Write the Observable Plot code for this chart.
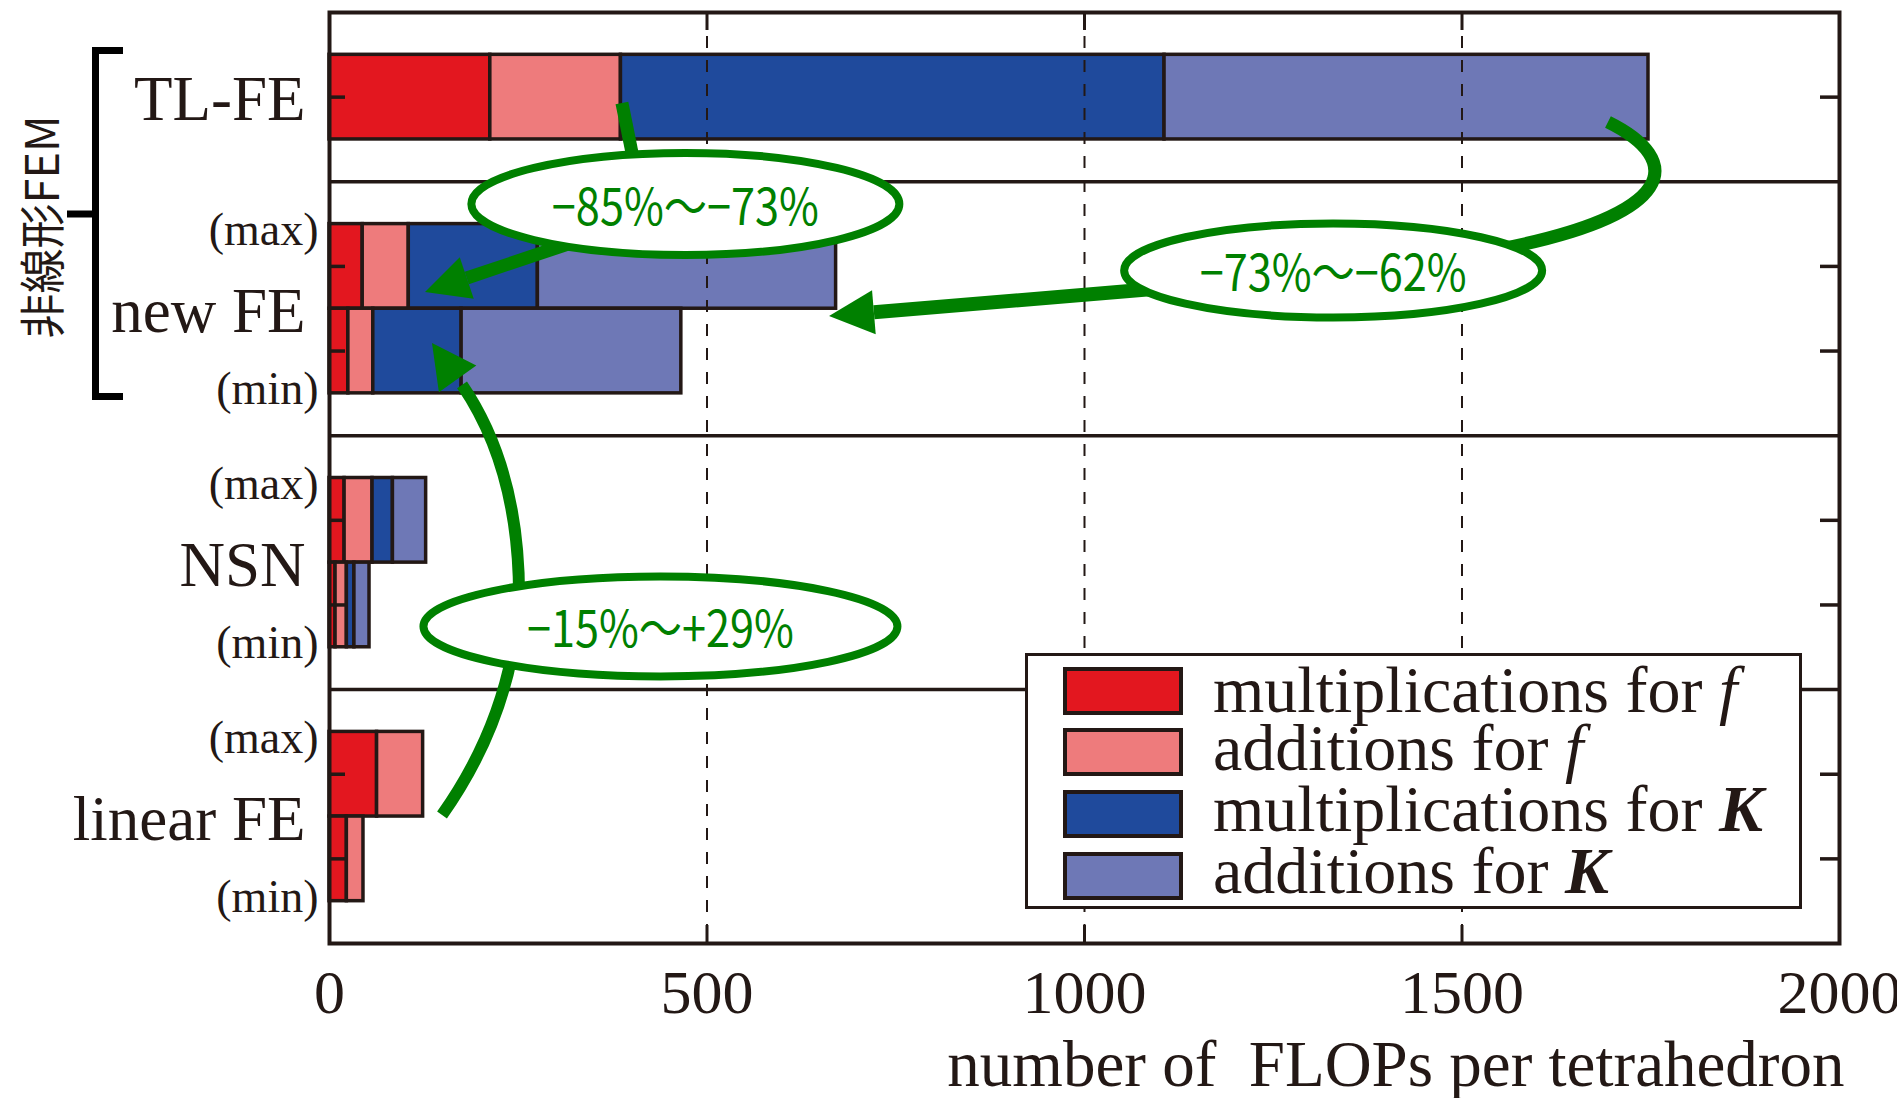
<!DOCTYPE html>
<html>
<head>
<meta charset="utf-8">
<script src="https://cdn.jsdelivr.net/npm/d3@7"></script>
<script src="https://cdn.jsdelivr.net/npm/@observablehq/plot@0.6"></script>
<style>
  html, body { margin: 0; padding: 0; background: #fff; }
  #chart { position: relative; width: 1897px; height: 1098px; overflow: hidden; }
</style>
</head>
<body>
<div id="chart"></div>
<script>
// ---------------- data ----------------
const rowLabels = ["TL-FE", "new FE (max)", "new FE (min)", "NSN (max)", "NSN (min)", "linear FE (max)", "linear FE (min)"];
const groupNames = ["TL-FE", "new FE", "NSN", "linear FE"];
const rowGroup = [0, 1, 1, 2, 2, 3, 3];
const rowVariant = ["", "(max)", "(min)", "(max)", "(min)", "(max)", "(min)"];
const multF = [213, 44, 25, 20, 8, 63, 23];
const addF = [173, 61, 33, 37, 15, 61, 22];
const multK = [720, 171, 117, 27, 10, 0, 0];
const addK = [641, 395, 291, 44, 20, 0, 0];
const series = ["multiplications for f", "additions for f", "multiplications for K", "additions for K"];
const seriesColors = ["#e3171f", "#ee7b7c", "#1f4a9c", "#6e78b6"];
const xTicks = [0, 500, 1000, 1500, 2000];
const gridTicks = [500, 1000, 1500];
const annotationTexts = ["−85%〜−73%", "−73%〜−62%", "−15%〜+29%"];
const bracketTitle = "非線形FEM";
const xLabel = "number of\u00a0 FLOPs per tetrahedron";

// ---------------- layout ----------------
const W = 1897, H = 1098;
const mL = 329, mR = 58, mT = 12, mB = 155;
const frameW = W - mL - mR, frameH = H - mT - mB;
const INK = "#231815";
const GREEN = "#008000";

// row placement in "row units": one bar = 1, gaps = 0.5
const groupTop = g => g === 0 ? 0.5 : 2.5 + 3 * (g - 1);
const slotOf = i => (i > 0 && rowGroup[i - 1] === rowGroup[i]) ? 1 : 0;
const rowY1 = rowLabels.map((r, i) => groupTop(rowGroup[i]) + slotOf(i));
const barCenters = rowY1.map(v => v + 0.5);
const separators = [1, 2, 3].map(g => groupTop(g) - 0.5);
const groupCenter = g => g === 0 ? 1 : groupTop(g) + 1;

const seriesValues = [multF, addF, multK, addK];
const segments = [];
rowLabels.forEach((r, i) => {
  let acc = 0;
  seriesValues.forEach((vals, s) => {
    const v = vals[i];
    if (v > 0) segments.push({row: r, series: series[s], x1: acc, x2: acc + v, y1: rowY1[i], y2: rowY1[i] + 1});
    acc += v;
  });
});

const bigLabels = groupNames.map((name, g) => ({text: name, y: groupCenter(g) + 0.035}));
const smallLabels = rowLabels.map((r, i) => ({
  text: rowVariant[i],
  y: rowVariant[i] === "(max)" ? rowY1[i] + 0.07 : rowY1[i] + 1 - 0.05
})).filter(d => d.text);

const plot = Plot.plot({
  width: W, height: H,
  marginLeft: mL, marginRight: mR, marginTop: mT, marginBottom: mB,
  style: {fontFamily: "'Liberation Serif', 'Times New Roman', serif", background: "white", color: INK, overflow: "visible"},
  x: {domain: [0, 2000]},
  y: {domain: [0, 11], reverse: true, axis: null},
  color: {domain: series, range: seriesColors},
  marks: [
    Plot.rect(segments, {x1: "x1", x2: "x2", y1: "y1", y2: "y2", fill: "series", stroke: INK, strokeWidth: 3.5}),
    Plot.ruleX(gridTicks, {stroke: INK, strokeWidth: 2, strokeDasharray: "12,12"}),
    Plot.ruleY(separators, {stroke: INK, strokeWidth: 3.5}),
    Plot.ruleX(gridTicks, {stroke: INK, strokeWidth: 3, insetTop: frameH - 18}),
    Plot.ruleX(gridTicks, {stroke: INK, strokeWidth: 3, insetBottom: frameH - 18}),
    Plot.ruleY(barCenters, {stroke: INK, strokeWidth: 3.5, insetRight: frameW - 16}),
    Plot.ruleY(barCenters, {stroke: INK, strokeWidth: 3.5, insetLeft: frameW - 19}),
    Plot.frame({stroke: INK, strokeWidth: 4}),
    Plot.axisX({ticks: xTicks, tickSize: 0, tickPadding: 25, fontSize: 62, tickFormat: "d", label: null}),
    Plot.text(bigLabels, {x: 0, y: "y", text: "text", textAnchor: "end", dx: -24, fontSize: 63, lineAnchor: "middle", fill: INK}),
    Plot.text(smallLabels, {x: 0, y: "y", text: "text", textAnchor: "end", dx: -11, fontSize: 46, lineAnchor: "middle", fill: INK}),
    Plot.text([xLabel], {text: d => d, frameAnchor: "bottom-right", textAnchor: "end", lineAnchor: "bottom", dy: 142, dx: 5, fontSize: 65, fill: INK})
  ]
});
document.getElementById("chart").appendChild(plot);

// ---------------- annotations ----------------
const sx = plot.scale("x"), sy = plot.scale("y");
const P = (xv, yv) => [sx.apply(xv), sy.apply(yv)];
const svg = d3.select(plot);
const g = svg.append("g").attr("class", "annotations");

function shaft(d, w) {
  g.append("path").attr("d", d).attr("fill", "none").attr("stroke", GREEN)
    .attr("stroke-width", w).attr("stroke-linecap", "butt");
}
function head(tip, from, len, halfW) {
  const dx = tip[0] - from[0], dy = tip[1] - from[1];
  const L = Math.hypot(dx, dy), ux = dx / L, uy = dy / L;
  const bx = tip[0] - ux * len, by = tip[1] - uy * len;
  const p1 = [bx - uy * halfW, by + ux * halfW], p2 = [bx + uy * halfW, by - ux * halfW];
  g.append("path").attr("d", `M${tip}L${p1}L${p2}Z`).attr("fill", GREEN);
  return [bx, by];
}

// arrow A: TL-FE f  -> ellipse 1 -> new FE (max)
{
  const a = P(388, 1.075), b = P(404.6, 1.808);
  shaft(`M${a}L${b}`, 13);
  const s = P(332.5, 2.694), tip = P(127.2, 3.308);
  const base = head(tip, s, 44, 22);
  shaft(`M${s}L${base}`, 13);
}
// arrow B: TL-FE end -> ellipse 2 -> new FE (max) end
{
  const a = P(1694, 1.300), c1 = P(1796, 1.749), c2 = P(1789.4, 2.398), e = P(1544.4, 2.812);
  shaft(`M${a}C${c1} ${c2} ${e}`, 13);
  const s = P(1107.3, 3.261), tip = P(662.3, 3.592);
  const base = head(tip, s, 45, 22);
  shaft(`M${s}L${base}`, 14);
}
// arrow C: linear FE (max) -> ellipse 3 -> new FE (min)
{
  const a = P(149.7, 9.488), c = P(219.9, 8.601), e = P(242.4, 7.597);
  shaft(`M${a}Q${c} ${e}`, 12);
  const s = P(251.7, 6.947), c2 = P(253, 5.411), bse = P(176.2, 4.407), tip = P(136.4, 3.911);
  shaft(`M${s}Q${c2} ${bse}`, 12);
  head(tip, bse, 44, 23);
}

const ellipses = [
  {cx: 472, cy: 2.268, rx: 214, ry: 51, text: annotationTexts[0]},
  {cx: 1330, cy: 3.054, rx: 209, ry: 47, text: annotationTexts[1]},
  {cx: 439, cy: 7.26, rx: 237, ry: 50, text: annotationTexts[2]}
];
ellipses.forEach(e => {
  const [cx, cy] = P(e.cx, e.cy);
  g.append("ellipse").attr("cx", cx).attr("cy", cy).attr("rx", e.rx).attr("ry", e.ry)
    .attr("fill", "white").attr("stroke", GREEN).attr("stroke-width", 8);
  g.append("text").attr("x", cx).attr("y", cy + 21).attr("text-anchor", "middle")
    .attr("font-family", "'Noto Sans CJK JP', 'Noto Sans', sans-serif").attr("font-weight", 400)
    .attr("font-size", 50).attr("fill", GREEN)
    .attr("textLength", 267).attr("lengthAdjust", "spacingAndGlyphs")
    .text(e.text);
});

// bracket for the nonlinear group
{
  const yt = sy.apply(0.455), yb = sy.apply(4.543), ym = sy.apply(2.387);
  g.append("path").attr("d", `M123,${yt}H95.5V${yb}H123M67,${ym}H95.5`)
    .attr("fill", "none").attr("stroke", "#000").attr("stroke-width", 7).attr("stroke-linejoin", "miter");
  const yc = sy.apply(2.54);
  g.append("text").attr("transform", `translate(39,${yc}) rotate(-90)`)
    .attr("text-anchor", "middle").attr("dominant-baseline", "central")
    .attr("font-family", "'Noto Sans CJK JP', 'Noto Sans', sans-serif").attr("font-weight", 400)
    .attr("font-size", 46).attr("fill", INK)
    .attr("textLength", 223).attr("lengthAdjust", "spacingAndGlyphs")
    .text(bracketTitle);
}

// legend (inside the plot area, bottom right)
{
  const lg = svg.append("g").attr("class", "legend").attr("text-anchor", "start");
  lg.append("rect").attr("x", 1026.5).attr("y", 654.5).attr("width", 774).attr("height", 253)
    .attr("fill", "white").attr("stroke", INK).attr("stroke-width", 3);
  const tops = [669, 730, 792, 854];
  const baselines = [712, 770, 831, 893];
  series.forEach((name, i) => {
    lg.append("rect").attr("x", 1065).attr("y", tops[i]).attr("width", 116).attr("height", 44)
      .attr("fill", seriesColors[i]).attr("stroke", INK).attr("stroke-width", 4);
    const cut = name.lastIndexOf(" ");
    const t = lg.append("text").attr("x", 1213).attr("y", baselines[i]).attr("text-anchor", "start")
      .attr("font-family", "'Liberation Serif', 'Times New Roman', serif").attr("font-size", 66).attr("fill", INK);
    t.append("tspan").text(name.slice(0, cut) + "\u00a0");
    const sym = name.slice(cut + 1);
    t.append("tspan").attr("font-style", "italic").attr("font-weight", sym === "K" ? "bold" : "normal").text(sym);
  });
}
</script>
</body>
</html>
